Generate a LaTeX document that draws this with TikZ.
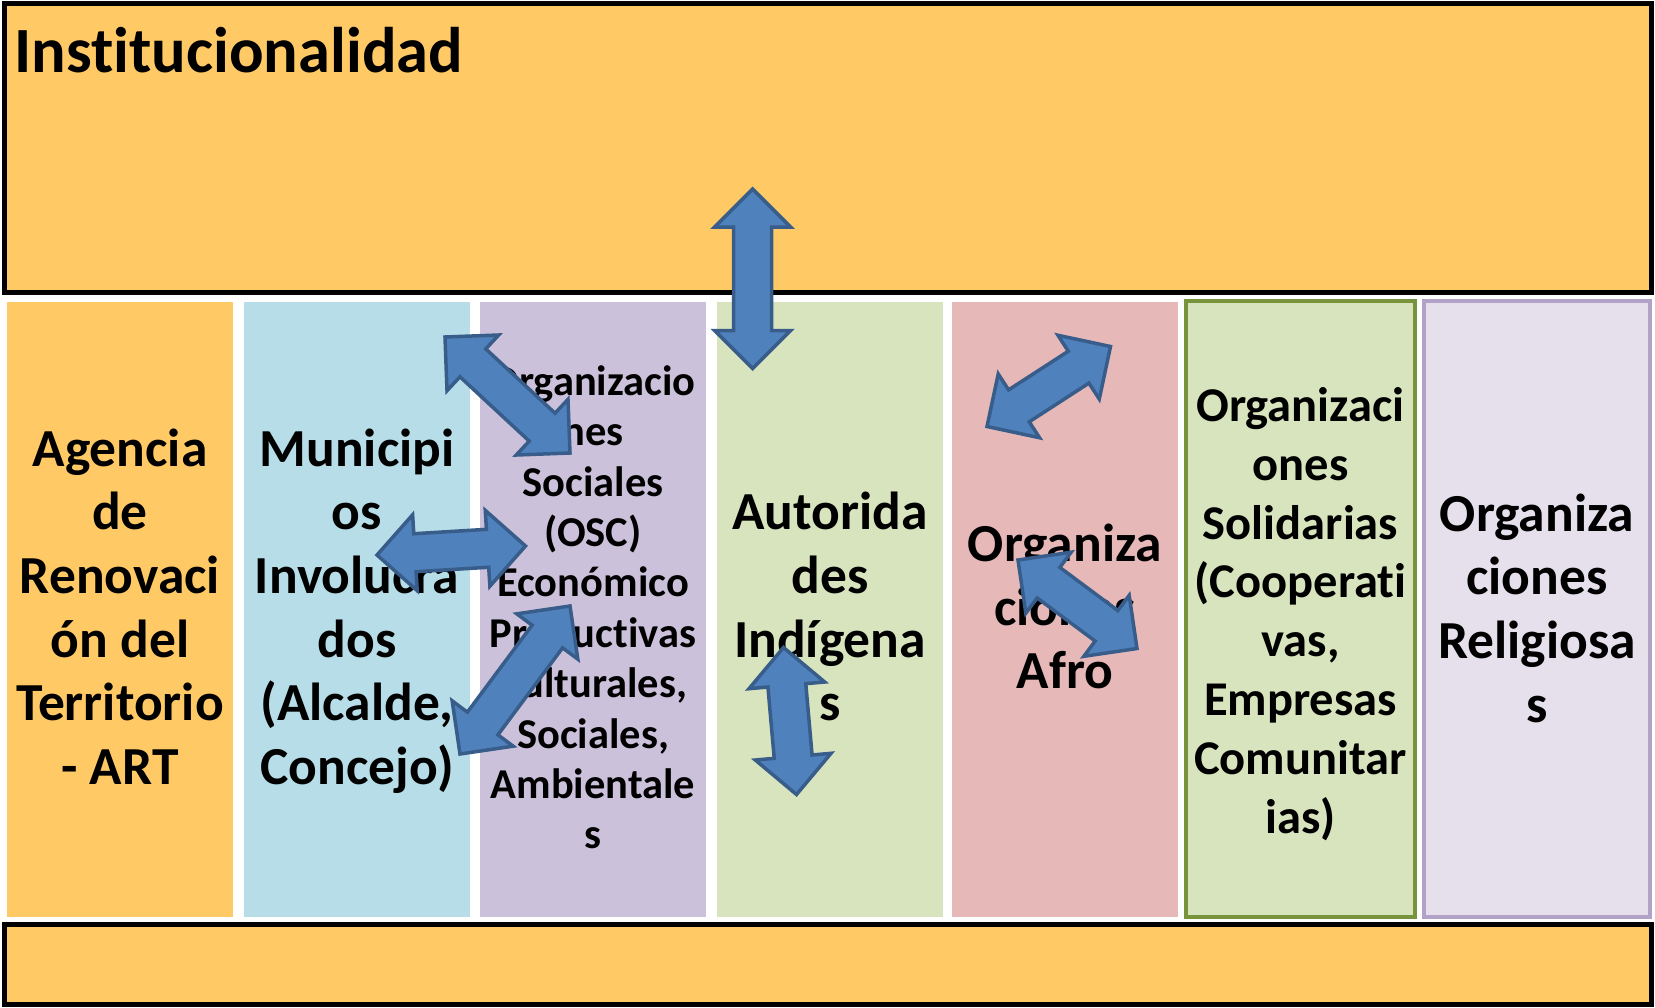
\documentclass[tikz,border=0pt]{standalone}
\usepackage{fontspec}
\setmainfont{Carlito}[Ligatures={NoCommon}]
\usetikzlibrary{calc}
\definecolor{orfill}{HTML}{FFCA66}
\definecolor{bluecol}{HTML}{B7DEE8}
\definecolor{purcol}{HTML}{CCC1DA}
\definecolor{grecol}{HTML}{D7E4BD}
\definecolor{redcol}{HTML}{E6B9B8}
\definecolor{lavcol}{HTML}{E6E0EC}
\definecolor{greedge}{HTML}{77933C}
\definecolor{lavedge}{HTML}{B3A2C7}
\definecolor{arrfill}{HTML}{4F81BD}
\definecolor{arredge}{HTML}{385D8A}
\newcommand\lnst{\rule[-0.29em]{0pt}{1.17em}}
\newcommand\dblarrow[2]{%
  \draw[arrowsty] (#1)
    -- ($(#1)!53.74pt!45:(#2)$) -- ($(#1)!42.49pt!26.565:(#2)$)
    -- ($(#2)!42.49pt!-26.565:(#1)$) -- ($(#2)!53.74pt!-45:(#1)$)
    -- (#2)
    -- ($(#2)!53.74pt!45:(#1)$) -- ($(#2)!42.49pt!26.565:(#1)$)
    -- ($(#1)!42.49pt!-26.565:(#2)$) -- ($(#1)!53.74pt!-45:(#2)$)
    -- cycle;}
\begin{document}
\begin{tikzpicture}[x=1pt,y=-1pt,
  bandbox/.style={draw=black, line width=5pt, fill=orfill, inner sep=0pt, minimum width=1647.5pt},
  colbox/.style={inner sep=0pt, minimum width=226pt, minimum height=615pt, align=center,
     font=\bfseries\fontsize{53.5}{63.6}\selectfont},
  arrowsty/.style={draw=arredge, fill=arrfill, line width=3.5pt, line join=miter}]
\useasboundingbox (0,0) rectangle (1655,1007);
\fill[white] (0,0) rectangle (1655,1007);
% bands
\node[bandbox, minimum height=289pt] (top) at (827.75,148) {};
\node[bandbox, minimum height=80pt] (bottom) at (827.75,964) {};
\node[anchor=base west, inner sep=0pt, font=\bfseries\fontsize{64.5}{77}\selectfont] (title) at (14,72) {Institucionalidad};
% columns
\node[colbox, fill=orfill] (c1) at (120,609.5)
  {\lnst Agencia\\\lnst de\\\lnst Renovaci\\\lnst ón del\\\lnst Territorio\\\lnst - ART};
\node[colbox, fill=bluecol] (c2) at (357,609.5)
  {\lnst Municipi\\\lnst os\\\lnst Involucra\\\lnst dos\\\lnst (Alcalde,\\\lnst Concejo)};
\node[colbox, fill=purcol, font=\bfseries\fontsize{42.5}{50.4}\selectfont] (c3) at (593,609.5)
  {\lnst Organizacio\\\lnst nes\\\lnst Sociales\\\lnst (OSC)\\\lnst Económico\\\lnst Productivas\\\lnst Culturales,\\\lnst Sociales,\\\lnst Ambientale\\\lnst s};
\node[colbox, fill=grecol] (c4) at (830,609.5)
  {\lnst Autorida\\\lnst des\\\lnst Indígena\\\lnst s};
\node[colbox, fill=redcol] (c5) at (1065,609.5)
  {\lnst Organiza\\\lnst ciones\\\lnst Afro};
\node[colbox, fill=grecol, draw=greedge, line width=4pt, minimum width=229pt, minimum height=616pt,
  font=\bfseries\fontsize{48.5}{58.8}\selectfont] (c6) at (1300.5,609)
  {\rule[-0.29em]{0pt}{1.335em}Organizaci\\\lnst ones\\\lnst Solidarias\\\lnst (Cooperati\\\lnst vas,\\\lnst Empresas\\\lnst Comunitar\\\lnst ias)};
\node[colbox, fill=lavcol, draw=lavedge, line width=4pt, minimum height=616pt] (c7) at (1537,609)
  {\rule[-0.29em]{0pt}{1.245em}Organiza\\\lnst ciones\\\lnst Religiosa\\\lnst s};
% arrow end points
\coordinate (a1s) at (752.7,189);
\coordinate (a1e) at (752.7,368.5);
\coordinate (a2s) at (445,337);
\coordinate (a2e) at (570,453);
\coordinate (a3s) at (377,555);
\coordinate (a3e) at (525.5,546);
\coordinate (a4s) at (460,754);
\coordinate (a4e) at (570,606);
\coordinate (a5s) at (783.5,647.5);
\coordinate (a5e) at (796.5,794.5);
\coordinate (a6s) at (987,426.5);
\coordinate (a6e) at (1110.5,346.5);
\coordinate (a7s) at (1018,560);
\coordinate (a7e) at (1137,648.5);
\dblarrow{a1s}{a1e}
\dblarrow{a2s}{a2e}
\dblarrow{a3s}{a3e}
\dblarrow{a4s}{a4e}
\dblarrow{a5s}{a5e}
\dblarrow{a6s}{a6e}
\dblarrow{a7s}{a7e}
\end{tikzpicture}
\end{document}
